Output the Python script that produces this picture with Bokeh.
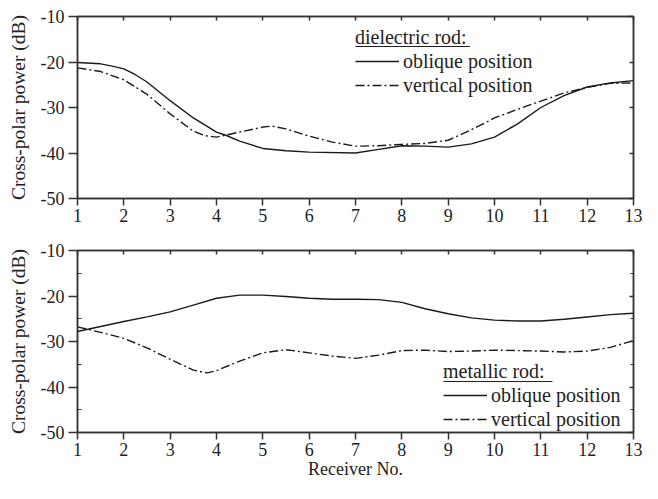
from bokeh.plotting import figure
from bokeh.layouts import column
from bokeh.models import (Range1d, FixedTicker, LinearAxis, Legend, LegendItem,
                          BoxAnnotation)
from bokeh.embed import file_html
from bokeh.resources import INLINE

# ---------------- data ----------------
x_top_obl = [1, 1.5, 1.75, 2, 2.25, 2.5, 3, 3.5, 4, 4.2, 4.5, 5, 5.5, 6, 7, 7.5, 8, 8.5, 9, 9.5, 10, 10.5, 11, 11.5, 12, 12.5, 13]
y_top_obl = [-20.1, -20.4, -20.9, -21.5, -22.8, -24.4, -28.5, -32.3, -35.4, -36.1, -37.4, -39.0, -39.5, -39.8, -40.0, -39.2, -38.4, -38.5, -38.7, -38.0, -36.5, -33.6, -30.0, -27.4, -25.5, -24.6, -24.1]

x_top_ver = [1, 1.5, 2, 2.5, 3, 3.5, 3.75, 4, 4.5, 5, 5.2, 5.5, 6, 6.5, 7, 7.5, 8, 8.5, 9, 9.5, 10, 10.5, 11, 11.5, 12, 12.5, 13]
y_top_ver = [-21.3, -22.1, -23.9, -27.1, -31.4, -35.2, -36.2, -36.5, -35.4, -34.3, -34.1, -34.7, -36.3, -37.6, -38.5, -38.4, -38.1, -37.9, -37.2, -34.9, -32.3, -30.4, -28.6, -26.8, -25.6, -24.7, -24.6]

x_bot_obl = [1, 1.5, 2, 2.5, 3, 3.5, 4, 4.5, 5, 5.5, 6, 6.5, 7, 7.5, 8, 8.5, 9, 9.5, 10, 10.5, 11, 11.5, 12, 12.5, 13]
y_bot_obl = [-27.8, -26.7, -25.6, -24.6, -23.5, -22.0, -20.5, -19.8, -19.8, -20.1, -20.5, -20.7, -20.7, -20.8, -21.4, -22.8, -23.9, -24.8, -25.3, -25.5, -25.5, -25.1, -24.6, -24.1, -23.8]

x_bot_ver = [1, 1.5, 2, 2.5, 3, 3.5, 3.8, 4, 4.5, 5, 5.5, 6, 6.5, 7, 7.5, 8, 8.5, 9, 9.5, 10, 10.5, 11, 11.5, 12, 12.5, 13]
y_bot_ver = [-26.8, -28.0, -29.3, -31.4, -33.9, -36.3, -36.9, -36.4, -34.3, -32.5, -31.8, -32.5, -33.2, -33.7, -33.0, -32.0, -31.9, -32.2, -32.1, -31.9, -32.0, -32.1, -32.3, -32.1, -31.3, -29.8]

x_ticks = list(range(1, 14))
y_ticks = [-50, -40, -30, -20, -10]
y_minor = [-45, -35, -25, -15]
y_tick_labels = {t: "%d" % t for t in y_ticks}

top_title = "dielectric rod:"
bot_title = "metallic rod:"
lab_obl = "oblique position"
lab_ver = "vertical position"
ylabel = "Cross-polar power (dB)"
xlabel = "Receiver No."

FONT = "Liberation Serif"
INK = "#1a1a1a"
AX = "#333333"
TXT = "#222222"
DASH = "9 3 2 3"


def make_panel(height, top_border, bottom_border, minor, xlab=None):
    p = figure(width=642, height=height, output_backend="svg", toolbar_location=None,
               x_range=Range1d(1, 13), y_range=Range1d(-50, -10),
               min_border_left=77, min_border_right=9, min_border_top=top_border,
               min_border_bottom=bottom_border, x_axis_type=None, y_axis_type=None)
    p.grid.visible = False
    p.outline_line_color = AX
    p.outline_line_width = 1.5
    p.background_fill_color = "white"
    p.border_fill_color = "white"

    xt = FixedTicker(ticks=x_ticks, minor_ticks=[])
    yt = FixedTicker(ticks=y_ticks, minor_ticks=y_minor if minor else [])

    def style(ax, labels):
        ax.axis_line_color = AX
        ax.axis_line_width = 1.5
        ax.major_tick_line_color = AX
        ax.major_tick_line_width = 1.5
        ax.minor_tick_line_color = AX
        ax.minor_tick_line_width = 1.2
        ax.major_label_text_font = FONT
        if labels:
            ax.major_label_text_font_size = "18px"
            ax.major_label_text_color = TXT
        else:
            ax.major_label_text_font_size = "1px"
            ax.major_label_text_color = None
            ax.major_label_standoff = 0

    bottom = LinearAxis(ticker=xt)
    style(bottom, True)
    bottom.major_tick_out = 7
    bottom.major_tick_in = 0
    bottom.major_label_standoff = 3
    if xlab:
        bottom.axis_label = xlab
        bottom.axis_label_text_font = FONT
        bottom.axis_label_text_font_size = "18px"
        bottom.axis_label_text_font_style = "normal"
        bottom.axis_label_text_color = TXT
        bottom.axis_label_standoff = 0
    p.add_layout(bottom, "below")

    left = LinearAxis(ticker=yt)
    style(left, True)
    left.major_label_overrides = y_tick_labels
    left.major_tick_out = 9
    left.major_tick_in = 0
    left.minor_tick_out = 0
    left.minor_tick_in = 4
    left.major_label_standoff = 4
    left.axis_label = ylabel
    left.axis_label_text_font = FONT
    left.axis_label_text_font_size = "19.5px"
    left.axis_label_text_font_style = "normal"
    left.axis_label_text_color = TXT
    left.axis_label_standoff = 9
    p.add_layout(left, "left")

    top = LinearAxis(ticker=xt)
    style(top, False)
    top.major_tick_out = 0
    top.major_tick_in = 4
    p.add_layout(top, "above")

    right = LinearAxis(ticker=yt)
    style(right, False)
    right.major_tick_out = 0
    right.major_tick_in = 4
    right.minor_tick_out = 0
    right.minor_tick_in = 3
    p.add_layout(right, "right")
    return p


def add_legend(p, r1, r2, title, loc):
    leg = Legend(items=[LegendItem(label=lab_obl, renderers=[r1]),
                        LegendItem(label=lab_ver, renderers=[r2])],
                 location=loc, title=title)
    leg.title_text_font = FONT
    leg.title_text_font_size = "20px"
    leg.title_text_font_style = "normal"
    leg.title_text_color = TXT
    leg.title_standoff = 0
    leg.label_text_font = FONT
    leg.label_text_font_size = "20px"
    leg.label_text_color = TXT
    leg.label_height = 24
    leg.glyph_height = 24
    leg.glyph_width = 44
    leg.label_standoff = 4
    leg.spacing = 0
    leg.padding = 0
    leg.margin = 0
    leg.border_line_color = None
    leg.background_fill_alpha = 0
    p.add_layout(leg, "center")


# ---------------- top panel ----------------
p1 = make_panel(233, 16, 35, False)
a1 = p1.line(x_top_obl, y_top_obl, line_color=INK, line_width=1.4)
b1 = p1.line(x_top_ver, y_top_ver, line_color=INK, line_width=1.4, line_dash=DASH)
add_legend(p1, a1, b1, top_title, (278, 101))
p1.add_layout(BoxAnnotation(left=7.0, right=9.47, top=-16.5, bottom=-16.72,
                            fill_color=TXT, fill_alpha=1, line_color=None))

# ---------------- bottom panel ----------------
p2 = make_panel(250, 17, 51, True, xlabel)
a2 = p2.line(x_bot_obl, y_bot_obl, line_color=INK, line_width=1.4)
b2 = p2.line(x_bot_ver, y_bot_ver, line_color=INK, line_width=1.4, line_dash=DASH)
add_legend(p2, a2, b2, bot_title, (366, 1))
p2.add_layout(BoxAnnotation(left=8.9, right=11.25, top=-38.7, bottom=-38.92,
                            fill_color=TXT, fill_alpha=1, line_color=None))

layout = column(p1, p2, spacing=0)
open("out.html", "w").write(file_html(layout, INLINE))
